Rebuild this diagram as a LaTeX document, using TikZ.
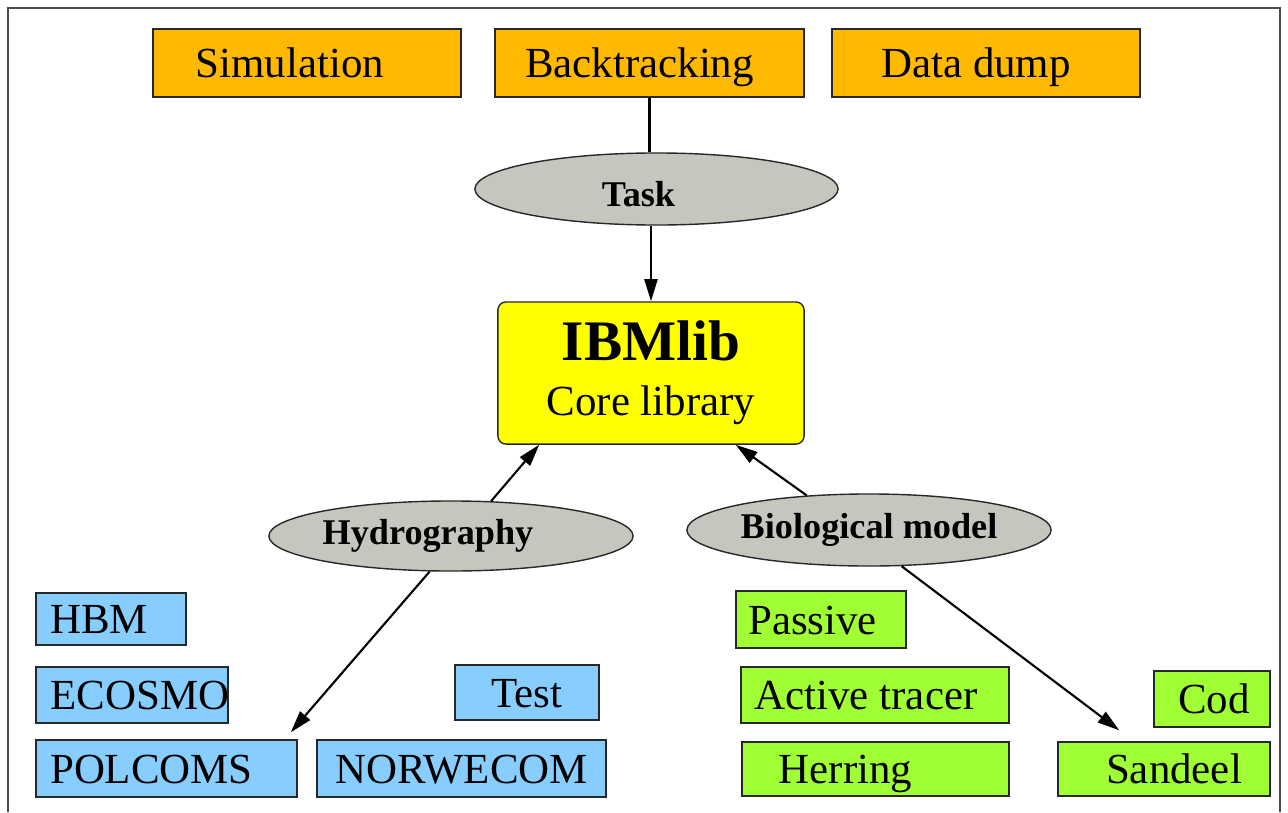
\documentclass[tikz,border=0pt]{standalone}
\usepackage{fontspec}
\setmainfont{Liberation Serif}
\usetikzlibrary{shapes.geometric,arrows.meta}
\definecolor{ibOrange}{RGB}{255,185,0}
\definecolor{ibBlue}{RGB}{135,206,255}
\definecolor{ibGreen}{RGB}{160,255,52}
\definecolor{ibGray}{RGB}{198,198,190}
\definecolor{ibYellow}{RGB}{255,255,0}
\definecolor{ibEdge}{RGB}{40,40,40}

\begin{document}
\begin{tikzpicture}[x=0.01cm, y=-0.01cm,
  box/.style={draw=ibEdge, line width=0.4pt, inner sep=0pt},
  txt/.style={font=\fontsize{12.2}{14}\selectfont, text height=8.3pt, text depth=0pt},
  btxt/.style={font=\fontsize{10.3}{12}\selectfont\bfseries},
  oval/.style={ellipse, draw=ibEdge, fill=ibGray, line width=0.4pt, inner sep=0pt},
  arr/.style={-{Triangle[length=2.2mm,width=1.3mm]}, line width=0.6pt}]
  \useasboundingbox (0,0) rectangle (1288,812);
  % frame
  \draw[line width=0.5pt, black!70] (8,812) -- (8,8) -- (1280,8) -- (1280,812);

  % tasks
  \node[box, fill=ibOrange, minimum width=3.08cm, minimum height=0.68cm,
    label={[txt, xshift=-0.17cm]center:Simulation}] (sim) at (307,63) {};
  \node[box, fill=ibOrange, minimum width=3.09cm, minimum height=0.68cm,
    label={[txt, xshift=-0.10cm]center:Backtracking}] (back) at (649.5,63) {};
  \node[box, fill=ibOrange, minimum width=3.08cm, minimum height=0.68cm,
    label={[txt, xshift=-0.10cm]center:Data dump}] (dump) at (986,63) {};
  \node[oval, minimum width=3.63cm, minimum height=0.72cm,
    label={[btxt, xshift=-0.18cm, yshift=-0.05cm]center:Task}] (task) at (656.5,189) {};

  % core
  \node[box, fill=ibYellow, rounded corners=0.08cm, minimum width=3.06cm, minimum height=1.42cm,
    align=center] (ibm) at (651,373)
    {{\fontsize{16.3}{18}\selectfont\bfseries IBMlib}\\[0.13cm]
     {\fontsize{12.2}{14}\selectfont Core library}};

  % hydrography
  \node[oval, minimum width=3.64cm, minimum height=0.70cm,
    label={[btxt, xshift=-0.23cm]center:Hydrography}] (hydro) at (451,536) {};
  \node[box, fill=ibBlue, minimum width=1.50cm, minimum height=0.52cm,
    label={[txt, xshift=-0.12cm]center:HBM}] (hbm) at (111,619) {};
  \node[box, fill=ibBlue, minimum width=1.92cm, minimum height=0.56cm,
    label={[txt, xshift=0.08cm]center:ECOSMO}] (ecosmo) at (132,695) {};
  \node[box, fill=ibBlue, minimum width=1.44cm, minimum height=0.55cm,
    label={[txt]center:Test}] (test) at (527,692.5) {};
  \node[box, fill=ibBlue, minimum width=2.61cm, minimum height=0.57cm,
    label={[txt, xshift=-0.15cm]center:POLCOMS}] (polcoms) at (166.5,768.5) {};
  \node[box, fill=ibBlue, minimum width=2.89cm, minimum height=0.57cm,
    label={[txt]center:NORWECOM}] (norwecom) at (461.5,768.5) {};

  % biology
  \node[oval, minimum width=3.64cm, minimum height=0.72cm,
    label={[btxt]center:Biological model}] (bio) at (869,530) {};
  \node[box, fill=ibGreen, minimum width=1.70cm, minimum height=0.57cm,
    label={[txt, xshift=-0.085cm]center:Passive}] (passive) at (821,619.5) {};
  \node[box, fill=ibGreen, minimum width=2.68cm, minimum height=0.56cm,
    label={[txt, xshift=-0.09cm]center:Active tracer}] (active) at (875,695) {};
  \node[box, fill=ibGreen, minimum width=2.67cm, minimum height=0.54cm,
    label={[txt, xshift=-0.30cm]center:Herring}] (herring) at (875.5,769) {};
  \node[box, fill=ibGreen, minimum width=1.16cm, minimum height=0.56cm,
    label={[txt, xshift=0.02cm]center:Cod}] (cod) at (1212,699) {};
  \node[box, fill=ibGreen, minimum width=2.12cm, minimum height=0.54cm,
    label={[txt, xshift=0.10cm]center:Sandeel}] (sandeel) at (1164,769) {};

  % connectors
  \draw[line width=0.6pt] (back.south) -- (back.south |- task.north);
  \draw[arr] (ibm.north |- task.south) -- (ibm.north);
  \draw[arr] (hydro.41) -- ([xshift=0.42cm]ibm.south west);
  \draw[arr] (bio.151) -- ([xshift=-0.69cm]ibm.south east);
  \draw[arr] (hydro.239) -- ([shift={(-7,-7)}]polcoms.north east);
  \draw[arr] (bio.312) -- ([shift={(62,-11)}]sandeel.north west);
\end{tikzpicture}
\end{document}
